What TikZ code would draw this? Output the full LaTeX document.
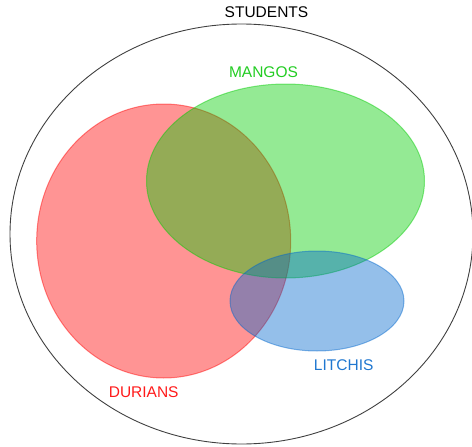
\documentclass[tikz,border=0pt]{standalone}
\usepackage{fontspec}
\setmainfont{Liberation Sans}
\definecolor{durianred}{HTML}{FF0000}
\definecolor{mangogreen}{HTML}{00CC00}
\definecolor{litchiblue}{HTML}{0066CC}
\definecolor{durtext}{HTML}{FF1A1A}
\definecolor{mantext}{HTML}{22CC22}
\definecolor{littext}{HTML}{1F77D0}
\begin{document}
\begin{tikzpicture}[x=1pt,y=-1pt,
  setfill/.style={fill=#1,draw=#1,fill opacity=0.42,draw opacity=0.45,line width=1pt},
  label/.style={font=\fontsize{15.5}{18}\selectfont,inner sep=0pt}]
\useasboundingbox (0,0) rectangle (472,447);
% universe
\draw[line width=0.9pt,draw=black!75] (241.5,234) ellipse [x radius=231.5, y radius=210];
\node[label] (students) at (266.5,12) {STUDENTS};
% the three sets
\path[setfill=durianred] (163.7,241) ellipse [x radius=127, y radius=137];
\path[setfill=mangogreen] (285.5,181) ellipse [x radius=139, y radius=97];
\path[setfill=litchiblue] (317,301) ellipse [x radius=87, y radius=50];
% set names
\node[label,text=mantext] (mangos) at (263.5,72.5) {MANGOS};
\node[label,text=durtext] (durians) at (143.7,392) {DURIANS};
\node[label,text=littext] (litchis) at (343.7,365.5) {LITCHIS};
\end{tikzpicture}
\end{document}
